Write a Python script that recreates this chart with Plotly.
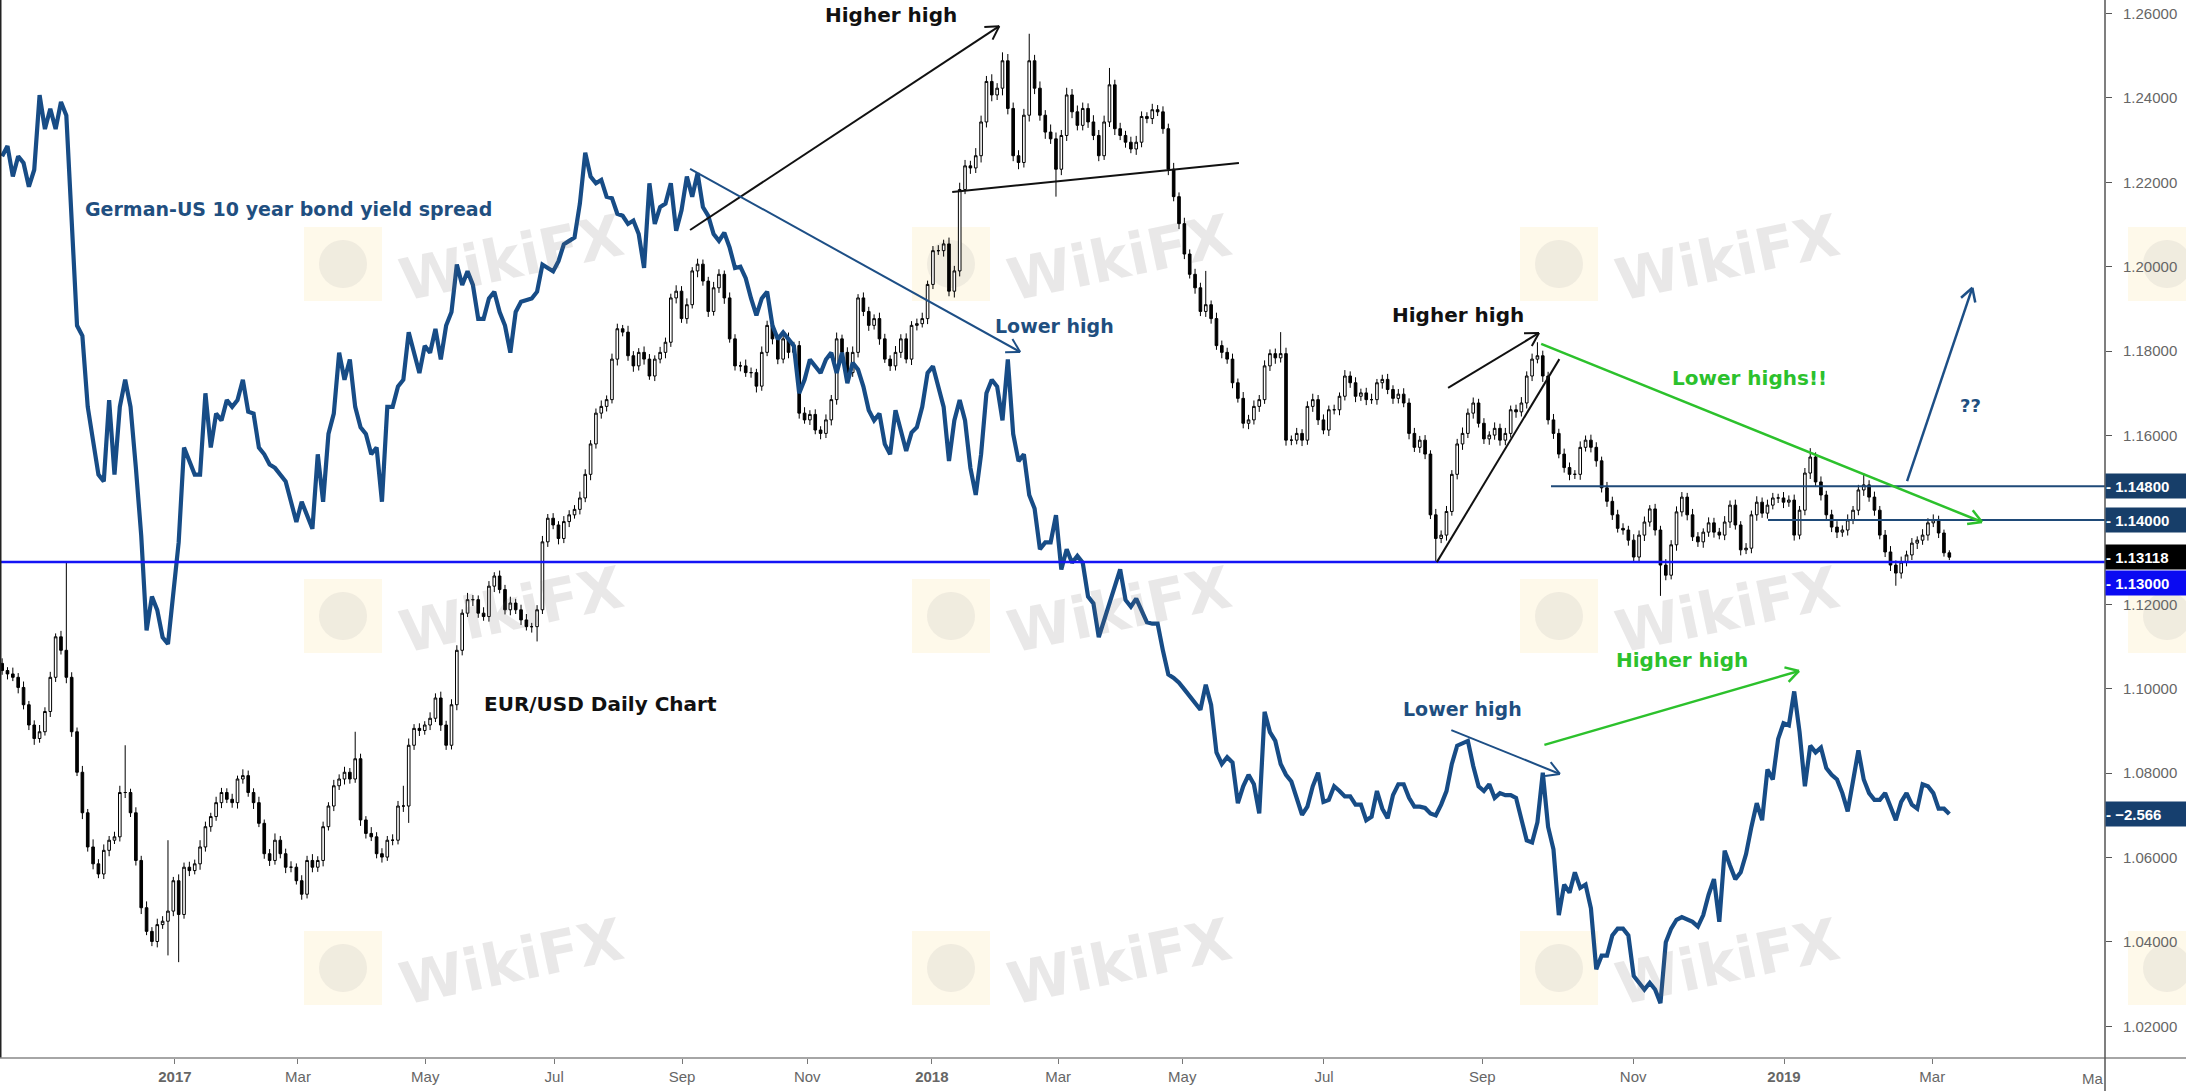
import math
import numpy as np
import plotly.graph_objects as go

# ---------------- DATA ----------------
# EUR/USD closes in pips (1 pip = 0.0001), one candle per ~2 trading days, Oct 2016 -> Mar 2019
close_a = [11043,11035,11027,11003,10962,10914,10882,10898,10946,11027,
           11123,11091,11027,10898,10802,10706,10625,10585,10561,10617,
           10641,10649,10754,10754,10706,10593,10481,10425,10401,10441,
           10449,10473,10545,10465,10577,10569,10585,10625,10673,10697,
           10730,10754,10738,10730,10786,10794,10754,10730,10681,10609,
           10593,10641,10609,10577,10577,10545,10513,10593,10577,10593,
           10673,10722,10770,10786,10802,10786,10834,10689,10657,10649,
           10609,10601,10641,10641,10722,10722,10866,10906,10901,10914,
           10930,10978,10914,10866,10962,11091,11179,11211,11211,11179,
           11171,11243,11267,11235,11187,11203,11187,11163,11147,11147,
           11187]
close_b = [11348,11404,11388,11356,11396,11412,11425,11452,11508,11580,
           11653,11669,11685,11781,11853,11845,11789,11765,11797,11781,
           11741,11781,11797,11821,11926,11942,11877,11910,11990,12006,
           11966,11894,11950,11982,11926,11829,11765,11765,11749,11749,
           11717,11797,11861,11829,11781,11829,11797,11813,11653,11637,
           11650,11613,11605,11637,11685,11829,11797,11749,11797,11926,
           11894,11861,11877,11829,11781,11765,11797,11829,11781,11861,
           11865,11877,11958,12038,12038,12054,11942,11990,12183,12239,
           12234,12263,12343,12439,12407,12423,12488,12375,12263,12247,
           12359,12488,12423,12359,12319,12303,12231,12311,12407,12367,
           12335]
close_c = [12375,12343,12311,12263,12343,12431,12327,12311,12295,12279,
           12295,12356,12351,12372,12367,12327,12231,12166,12102,12030,
           11982,11950,11894,11910,11877,11813,11797,11781,11725,11688,
           11629,11637,11669,11685,11765,11794,11784,11794,11589,11589,
           11605,11589,11669,11685,11637,11613,11661,11661,11693,11741,
           11725,11693,11701,11685,11685,11725,11733,11709,11688,11698,
           11677,11605,11572,11589,11556,11412,11356,11364,11420,11508,
           11580,11605,11653,11677,11629,11592,11601,11617,11589,11605,
           11661,11656,11677,11741,11781,11789,11741,11637,11605,11556,
           11524,11508,11508,11572,11589,11572,11540,11476,11444,11412,
           11380]
close_d = [11376,11352,11312,11364,11395,11426,11376,11293,11269,11341,
           11419,11454,11412,11360,11348,11371,11393,11371,11364,11395,
           11435,11388,11329,11333,11412,11442,11416,11435,11452,11452,
           11442,11447,11364,11423,11511,11549,11490,11459,11412,11383,
           11371,11376,11400,11423,11471,11483,11454,11423,11364,11324,
           11293,11274,11300,11317,11345,11352,11364,11393,11400,11369,
           11322,11311.8]
first_open = 1.1060

# upper / lower wick lengths in pips
wick_up_a = [12,8,15,10,14,9,11,16,10,13, 8,14,209,12,10,15,9,18,11,14,
             10,12,16,112,9,13,11,15,10,14, 12,168,9,15,11,13,10,16,12,9,
             14,11,10,13,8,15,12,10,14,9, 11,16,10,12,14,9,13,11,15,10,
             12,9,14,11,13,10,64,12,9,15, 11,13,10,14,12,48,16,10,12,9,
             14,11,15,10,13,12,9,16,11,10, 14,12,9,13,11,15,10,12,14,9, 11]
wick_dn_a = [10,13,9,14,11,12,15,10,9,13, 11,10,14,12,9,15,11,13,10,12,
             14,9,11,13,10,12,15,9,11,14, 10,81,12,113,10,13,9,14,11,12,
             10,13,9,12,14,11,10,15,9,12, 13,10,11,14,12,9,13,10,12,11,
             14,9,12,10,13,11,9,14,12,10, 11,13,9,12,10,14,40,11,13,10,
             12,9,14,11,10,13,12,9,15,11, 10,12,14,9,11,13,10,12,9,14, 35]
wick_up_b = [14,10,12,9,13,11,10,15,12,9, 11,14,10,13,12,9,15,11,10,14,
             12,9,13,11,10,14,12,15,9,13, 11,10,14,12,9,13,11,10,15,12,
             9,14,11,13,10,12,15,9,11,14, 10,12,9,13,11,15,10,12,14,9,
             13,11,10,14,12,9,15,11,13,10, 12,14,9,11,13,10,15,12,16,14,
             12,18,15,13,17,12,20,16,14,13, 15,64,14,16,12,18,15,13,17,14, 15]
wick_dn_b = [10,12,10,14,11,13,9,12,10,14, 11,13,12,9,15,10,12,14,11,13,
             9,12,10,14,11,13,10,12,9,15, 11,13,10,12,14,9,11,13,10,12,
             15,11,9,13,12,10,14,11,13,9, 12,10,14,11,13,12,9,15,10,12,
             11,13,10,14,9,12,11,13,10,14, 12,9,13,11,10,14,12,15,13,11,
             14,12,16,13,15,12,17,14,13,16, 12,15,14,13,16,12,65,14,13,15, 12]
wick_up_c = [14,12,16,13,15,40,12,14,11,13, 15,12,10,14,11,13,12,15,10,14,
             11,13,12,80,10,14,12,11,13,10, 15,12,14,11,13,10,12,51,14,11,
             13,10,12,14,11,13,10,12,9,14, 11,13,10,12,14,9,11,13,10,12,
             14,11,13,10,12,9,14,11,13,10, 12,14,11,13,10,12,9,14,11,13,
             10,12,14,11,13,32,12,10,14,11, 13,12,10,14,11,13,12,10,14,11, 12]
wick_dn_c = [12,14,11,13,10,12,15,11,13,10, 14,12,11,13,10,12,14,11,13,12,
             10,14,11,13,12,10,14,11,13,10, 12,14,11,13,10,12,14,11,13,12,
             10,14,11,13,12,10,14,11,13,10, 12,14,11,13,10,12,14,11,13,12,
             10,14,11,13,12,10,55,11,13,10, 12,14,11,13,10,12,14,11,13,12,
             10,14,11,13,12,10,14,11,13,10, 12,14,11,13,10,12,14,11,13,12, 10]
wick_up_d = [12,10,14,11,13,9,12,10,14,11, 13,12,10,14,11,9,13,12,10,14,
             11,13,9,12,10,14,11,13,12,10, 14,11,13,10,12,21,11,13,10,12,
             14,11,13,10,12,28,11,13,10,12, 14,11,13,10,12,9,14,11,13,10, 8,6]
wick_dn_d = [11,13,10,12,14,11,13,73,12,10, 14,11,13,10,12,14,11,13,10,12,
             14,11,13,10,12,14,11,13,10,12, 14,11,13,10,12,14,11,13,10,12,
             14,11,13,10,12,14,11,13,10,12, 14,30,13,10,12,14,11,13,10,12, 9,7]

# German-US 10 year bond yield spread (same bar positions)
spread_a = [-1.595,-1.580,-1.625,-1.595,-1.605,-1.640,-1.615,-1.505,-1.555,-1.525,
            -1.555,-1.515,-1.535,-1.705,-1.845,-1.860,-1.965,-2.015,-2.065,-2.075,
            -1.955,-2.065,-1.965,-1.925,-1.965,-2.055,-2.155,-2.295,-2.245,-2.265,
            -2.305,-2.315,-2.235,-2.165,-2.025,-2.045,-2.065,-2.065,-1.945,-2.025,
            -1.975,-1.985,-1.955,-1.965,-1.955,-1.925,-1.972,-1.975,-2.025,-2.035,
            -2.050,-2.055,-2.065,-2.075,-2.105,-2.135,-2.105,-2.125,-2.145,-2.035,
            -2.105,-2.005,-1.975,-1.885,-1.925,-1.895,-1.965,-1.995,-2.005,-2.035,
            -2.025,-2.105,-1.965,-1.965,-1.935,-1.925,-1.855,-1.885,-1.915,-1.875,
            -1.885,-1.850,-1.895,-1.845,-1.825,-1.755,-1.785,-1.765,-1.785,-1.835,
            -1.835,-1.805,-1.795,-1.825,-1.845,-1.885,-1.825,-1.810,-1.807,-1.805,
            -1.795]
spread_b = [-1.755,-1.760,-1.765,-1.750,-1.725,-1.720,-1.715,-1.665,-1.590,-1.625,
            -1.635,-1.630,-1.655,-1.657,-1.680,-1.683,-1.695,-1.690,-1.710,-1.760,
            -1.635,-1.695,-1.670,-1.665,-1.635,-1.705,-1.675,-1.625,-1.655,-1.620,
            -1.670,-1.683,-1.710,-1.720,-1.708,-1.730,-1.760,-1.758,-1.775,-1.805,
            -1.830,-1.805,-1.795,-1.845,-1.865,-1.855,-1.865,-1.875,-1.945,-1.925,
            -1.895,-1.905,-1.915,-1.895,-1.885,-1.915,-1.885,-1.930,-1.900,-1.910,
            -1.935,-1.970,-1.985,-1.975,-2.020,-2.035,-1.970,-2.000,-2.030,-2.003,
            -1.995,-1.965,-1.915,-1.905,-1.935,-1.965,-2.045,-1.985,-1.955,-1.985,
            -2.055,-2.095,-2.035,-1.945,-1.925,-1.935,-1.985,-1.895,-2.005,-2.045,
            -2.035,-2.095,-2.115,-2.175,-2.165,-2.165,-2.125,-2.205,-2.175,-2.195,
            -2.185]
spread_c = [-2.195,-2.245,-2.255,-2.305,-2.280,-2.255,-2.227,-2.205,-2.250,-2.260,
            -2.248,-2.265,-2.283,-2.285,-2.285,-2.325,-2.360,-2.365,-2.372,-2.382,
            -2.392,-2.402,-2.412,-2.375,-2.405,-2.475,-2.492,-2.482,-2.490,-2.550,
            -2.525,-2.508,-2.522,-2.565,-2.415,-2.445,-2.458,-2.492,-2.508,-2.518,
            -2.545,-2.567,-2.555,-2.525,-2.505,-2.548,-2.545,-2.525,-2.532,-2.540,
            -2.540,-2.552,-2.552,-2.575,-2.570,-2.532,-2.558,-2.572,-2.538,-2.522,
            -2.522,-2.542,-2.555,-2.555,-2.557,-2.565,-2.568,-2.552,-2.532,-2.492,
            -2.465,-2.462,-2.458,-2.495,-2.525,-2.532,-2.522,-2.542,-2.535,-2.538,
            -2.538,-2.542,-2.572,-2.605,-2.608,-2.578,-2.505,-2.585,-2.618,-2.715,
            -2.670,-2.682,-2.652,-2.675,-2.670,-2.705,-2.795,-2.775,-2.775,-2.745,
            -2.735]
spread_d = [-2.735,-2.745,-2.805,-2.815,-2.825,-2.815,-2.825,-2.845,-2.755,-2.735,
            -2.722,-2.718,-2.722,-2.725,-2.732,-2.715,-2.685,-2.662,-2.725,-2.620,
            -2.642,-2.662,-2.652,-2.625,-2.585,-2.550,-2.575,-2.500,-2.515,-2.455,
            -2.432,-2.435,-2.385,-2.445,-2.525,-2.465,-2.475,-2.468,-2.498,-2.508,
            -2.515,-2.535,-2.562,-2.518,-2.472,-2.515,-2.535,-2.545,-2.545,-2.535,
            -2.555,-2.575,-2.548,-2.535,-2.552,-2.558,-2.522,-2.525,-2.535,-2.558,
            -2.558,-2.566]

# x-axis ticks (bar positions of month starts) and labels
tick_pos = [32.3, 55.3, 79.1, 103.2, 127.1, 150.5, 173.8, 197.4, 220.6, 247.1, 276.7, 304.9, 333.1, 360.8]
tick_text = ["<b>2017</b>", "Mar", "May", "Jul", "Sep", "Nov", "<b>2018</b>", "Mar", "May", "Jul",
             "Sep", "Nov", "<b>2019</b>", "Mar"]
price_ticks = [1.02, 1.04, 1.06, 1.08, 1.10, 1.12, 1.14, 1.16, 1.18, 1.20, 1.22, 1.24, 1.26]
levels = [1.148, 1.140, 1.130]

# ---------------- BUILD ----------------
close = np.array(close_a + close_b + close_c + close_d) / 1e4
wu = np.array(wick_up_a + wick_up_b + wick_up_c + wick_up_d) / 1e4
wd = np.array(wick_dn_a + wick_dn_b + wick_dn_c + wick_dn_d) / 1e4
spread = np.array(spread_a + spread_b + spread_c + spread_d)
assert len(close) == len(wu) == len(wd) == len(spread)
opn = np.concatenate([[first_open], close[:-1]])
high = np.maximum(opn, close) + wu
low = np.minimum(opn, close) - wd
x = np.arange(len(close))

W, H = 2186, 1091
MR, MB = 81, 33
PW, PH = W - MR, H - MB
X_RANGE = [-0.4, 393.1]
Y_RANGE = [1.01249, 1.2632]
Y2_RANGE = [-2.926, -1.3645]

NAVY = "#1d4f86"
NAVY_TXT = "#1f4f80"
GREEN = "#2cc12c"
BLACK = "#111111"
FONT = "DejaVu Sans"


def to_px(i, p):
    return ((i - X_RANGE[0]) / (X_RANGE[1] - X_RANGE[0]) * PW,
            (Y_RANGE[1] - p) / (Y_RANGE[1] - Y_RANGE[0]) * PH)


def to_data(px, py):
    return (X_RANGE[0] + px / PW * (X_RANGE[1] - X_RANGE[0]),
            Y_RANGE[1] - py / PH * (Y_RANGE[1] - Y_RANGE[0]))


fig = go.Figure()
fig.add_trace(go.Candlestick(
    x=x, open=opn, high=high, low=low, close=close,
    increasing=dict(line=dict(color="#000000", width=1), fillcolor="#ffffff"),
    decreasing=dict(line=dict(color="#000000", width=1), fillcolor="#000000"),
    whiskerwidth=0, hoverinfo="skip", showlegend=False))
fig.add_trace(go.Scatter(
    x=x, y=spread, yaxis="y2", mode="lines",
    line=dict(color="#174c86", width=4.2), hoverinfo="skip", showlegend=False))

shapes = []
annotations = []

# watermark (WikiFX) overlay
for ry in (264, 616, 968):
    for kx in range(0, 4):
        lx = 343 + 608 * kx
        shapes.append(dict(type="rect", xref="paper", yref="paper", layer="below",
                           x0=(lx - 39) / PW, x1=(lx + 39) / PW,
                           y0=1 - (ry + 37) / PH, y1=1 - (ry - 37) / PH,
                           fillcolor="rgba(250,225,150,0.20)", line=dict(width=0)))
        shapes.append(dict(type="circle", xref="paper", yref="paper", layer="below",
                           x0=(lx - 24) / PW, x1=(lx + 24) / PW,
                           y0=1 - (ry + 24) / PH, y1=1 - (ry - 24) / PH,
                           fillcolor="rgba(160,160,160,0.15)", line=dict(width=0)))
        tx = 511 + 608 * kx
        if tx + 120 < PW:
            annotations.append(dict(xref="paper", yref="paper", x=tx / PW, y=1 - (ry - 6) / PH,
                                    xanchor="center", yanchor="middle",
                                    text="<b>WikiFX</b>", showarrow=False, textangle=-12,
                                    font=dict(family=FONT, size=58, color="rgba(120,110,110,0.16)")))

# horizontal levels
shapes.append(dict(type="line", xref="x", yref="y", x0=X_RANGE[0], x1=X_RANGE[1],
                   y0=levels[2], y1=levels[2], line=dict(color="#1414f5", width=2.5)))
for lvl, start_px in ((levels[0], 1551), (levels[1], 1768)):
    sx, _ = to_data(start_px, 0)
    shapes.append(dict(type="line", xref="x", yref="y", x0=sx, x1=X_RANGE[1],
                       y0=lvl, y1=lvl, line=dict(color="#1f4a78", width=2)))

# drawn trend lines / arrows (tail index, tail price, head index, head price)
drawings = [
    (128.6, 1.2087, 186.4, 1.2570, BLACK, 2, True),
    (177.6, 1.2177, 231.2, 1.2246, BLACK, 2, False),
    (128.6, 1.2232, 190.3, 1.1798, NAVY, 2, True),
    (270.3, 1.1713, 287.3, 1.1843, BLACK, 2, True),
    (268.2, 1.1300, 291.1, 1.1781, BLACK, 2, False),
    (287.7, 1.1817, 370.1, 1.1395, GREEN, 2.5, True),
    (270.9, 1.0902, 291.2, 1.0798, NAVY, 2, True),
    (288.3, 1.0867, 335.9, 1.1042, GREEN, 2.5, True),
    (356.1, 1.1492, 368.3, 1.1950, NAVY, 2.5, True),
]
for i0, p0, i1, p1, col, wdt, head in drawings:
    shapes.append(dict(type="line", xref="x", yref="y", x0=i0, y0=p0, x1=i1, y1=p1,
                       line=dict(color=col, width=wdt)))
    if head:
        x0p, y0p = to_px(i0, p0)
        x1p, y1p = to_px(i1, p1)
        n = math.hypot(x1p - x0p, y1p - y0p)
        vx, vy = -(x1p - x0p) / n, -(y1p - y0p) / n
        for s in (1, -1):
            a = math.radians(30) * s
            wx = x1p + 15 * (vx * math.cos(a) - vy * math.sin(a))
            wy = y1p + 15 * (vx * math.sin(a) + vy * math.cos(a))
            di, dp = to_data(wx, wy)
            shapes.append(dict(type="line", xref="x", yref="y", x0=i1, y0=p1, x1=di, y1=dp,
                               line=dict(color=col, width=wdt)))

# text labels
texts = [
    ("Higher high", 166.2, 1.2596, BLACK, 20),
    ("Lower high", 196.8, 1.1860, NAVY_TXT, 19),
    ("German-US 10 year bond yield spread", 53.6, 1.2137, NAVY_TXT, 19),
    ("EUR/USD Daily Chart", 111.8, 1.0964, BLACK, 20),
    ("Higher high", 272.2, 1.1886, BLACK, 20),
    ("Lower highs!!", 326.6, 1.1737, GREEN, 20),
    ("Lower high", 272.9, 1.0953, NAVY_TXT, 19),
    ("Higher high", 314.0, 1.1068, GREEN, 20),
    ("??", 367.9, 1.1670, NAVY_TXT, 18),
]
for t, ti, tp, col, sz in texts:
    annotations.append(dict(x=ti, y=tp, xref="x", yref="y", text="<b>%s</b>" % t, showarrow=False,
                            xanchor="center", yanchor="middle",
                            font=dict(family=FONT, size=sz, color=col)))

# price-scale labels
def box(text, y, yref, bg, yshift=0):
    annotations.append(dict(xref="paper", x=1, xanchor="left", yref=yref, y=y, yanchor="middle",
                            yshift=yshift, text="<b>-\u00a0%s</b>" % text, showarrow=False,
                            width=81, height=24, align="left", bgcolor=bg, borderpad=0,
                            font=dict(family="Liberation Sans", size=15, color="#ffffff")))

box("%.5f" % levels[0], levels[0], "y", "#173e69")
box("%.5f" % levels[1], levels[1], "y", "#173e69")
box("%.5f" % close[-1], close[-1], "y", "#000000")
box("%.5f" % levels[2], levels[2], "y", "#0a0af2", yshift=-21)
box(("%.3f" % spread[-1]).replace("-", "\u2212"), spread[-1], "y2", "#163f6e")

# price tick labels hidden where a level box covers them
hidden = {round(v, 3) for v in levels}
price_text = ["" if round(v, 3) in hidden else "%.5f" % v for v in price_ticks]

# clipped next month label at the right edge
annotations.append(dict(xref="paper", yref="paper", x=1, xanchor="right", y=-20 / PH, yanchor="middle",
                        text="Ma", showarrow=False,
                        font=dict(family="Liberation Sans", size=15, color="#666")))

# frame lines
shapes.append(dict(type="line", xref="paper", yref="paper", x0=0, x1=0, y0=0, y1=1,
                   line=dict(color="#222", width=3)))
shapes.append(dict(type="line", xref="paper", yref="paper", x0=0, x1=W / PW, y0=0, y1=0,
                   line=dict(color="#888", width=1.5)))
shapes.append(dict(type="line", xref="paper", yref="paper", x0=1, x1=1, y0=-MB / PH, y1=1,
                   line=dict(color="#555", width=1.5)))

fig.update_layout(
    width=W, height=H, margin=dict(l=0, r=MR, t=0, b=MB, pad=0),
    paper_bgcolor="#ffffff", plot_bgcolor="#ffffff", showlegend=False,
    xaxis=dict(range=X_RANGE, rangeslider=dict(visible=False), tickvals=tick_pos, ticktext=tick_text,
               ticks="outside", ticklen=5, tickcolor="#777", showline=False, showgrid=False,
               zeroline=False, tickfont=dict(family="Liberation Sans", size=15, color="#666")),
    yaxis=dict(side="right", range=Y_RANGE, tickvals=price_ticks, ticktext=price_text,
               ticks="outside", ticklen=6, tickcolor="#555", showline=False, showgrid=False,
               zeroline=False, ticklabelstandoff=8,
               tickfont=dict(family="Liberation Sans", size=15, color="#666")),
    yaxis2=dict(overlaying="y", range=Y2_RANGE, visible=False),
    shapes=shapes, annotations=annotations,
)

fig.write_html("out.html", config={"displayModeBar": False},
               post_script="document.body.style.margin='0';document.body.style.overflow='hidden';")
